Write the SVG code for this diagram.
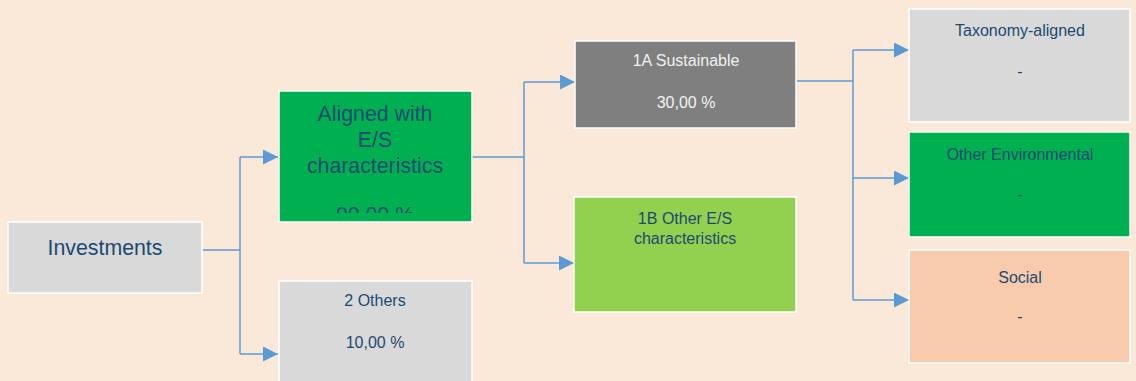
<svg xmlns="http://www.w3.org/2000/svg" width="1136" height="381" viewBox="0 0 1136 381">
<defs>
<style>
.box{stroke:#ffffff;stroke-width:1.5}
.t{font-family:"Liberation Sans",Arial,sans-serif;fill:#1b4a72;text-anchor:middle}
.s14{font-size:16px}
.s20{font-size:21.3px}
.w{fill:#f2f2f2}
.c{fill:none;stroke:#5b9bd5;stroke-width:1.5}
</style>
<marker id="ah" viewBox="0 0 10 10" refX="10" refY="5" markerUnits="userSpaceOnUse" markerWidth="16" markerHeight="15" orient="auto">
<path d="M0,0 L10,5 L0,10 Z" fill="#5b9bd5"/>
</marker>
<clipPath id="clipA"><rect x="280" y="92" width="191" height="121"/></clipPath>
</defs>
<rect width="1136" height="381" fill="#fae9d9"/>
<g id="connectors">
<path class="c" d="M202,250 H240"/>
<path class="c" d="M240,157 V354"/>
<path class="c" d="M240,157 H278" marker-end="url(#ah)"/>
<path class="c" d="M240,354 H278" marker-end="url(#ah)"/>
<path class="c" d="M472,157 H524"/>
<path class="c" d="M524,82 V263"/>
<path class="c" d="M524,82 H575" marker-end="url(#ah)"/>
<path class="c" d="M524,263 H574" marker-end="url(#ah)"/>
<path class="c" d="M796,81 H853"/>
<path class="c" d="M853,50 V300"/>
<path class="c" d="M853,50 H909" marker-end="url(#ah)"/>
<path class="c" d="M853,178 H909" marker-end="url(#ah)"/>
<path class="c" d="M853,300 H909" marker-end="url(#ah)"/>
</g>
<g id="investments">
<rect class="box" x="8" y="222" width="194" height="71" fill="#d9d9d9"/>
<text class="t s20" x="105" y="255">Investments</text>
</g>
<g id="aligned">
<rect class="box" x="279" y="91" width="193" height="131" fill="#00b050"/>
<g clip-path="url(#clipA)">
<text class="t s20" x="375" y="121">Aligned with</text>
<text class="t s20" x="375" y="147">E/S</text>
<text class="t s20" x="375" y="173">characteristics</text>
<text class="t s20" x="375" y="222">90,00 %</text>
</g>
</g>
<g id="others">
<rect class="box" x="279" y="281" width="193" height="110" fill="#d9d9d9"/>
<text class="t s14" x="375" y="306">2 Others</text>
<text class="t s14" x="375" y="348">10,00 %</text>
</g>
<g id="sustainable">
<rect class="box" x="575" y="41" width="221" height="87" fill="#7f7f7f"/>
<text class="t s14 w" x="686" y="66">1A Sustainable</text>
<text class="t s14 w" x="686" y="108">30,00 %</text>
</g>
<g id="other-es">
<rect class="box" x="574" y="197" width="222" height="115" fill="#92d050"/>
<text class="t s14" x="685" y="224">1B Other E/S</text>
<text class="t s14" x="685" y="244">characteristics</text>
</g>
<g id="taxonomy">
<rect class="box" x="909" y="9" width="221" height="113" fill="#d9d9d9"/>
<text class="t s14" x="1020" y="36">Taxonomy-aligned</text>
<text class="t s14" x="1020" y="77">-</text>
</g>
<g id="other-env">
<rect class="box" x="909" y="132" width="221" height="105" fill="#00b050"/>
<text class="t s14" x="1020" y="160">Other Environmental</text>
<text class="t s14" x="1020" y="200">-</text>
</g>
<g id="social">
<rect class="box" x="909" y="250" width="221" height="113" fill="#f8cbad"/>
<text class="t s14" x="1020" y="283">Social</text>
<text class="t s14" x="1020" y="322">-</text>
</g>
</svg>
